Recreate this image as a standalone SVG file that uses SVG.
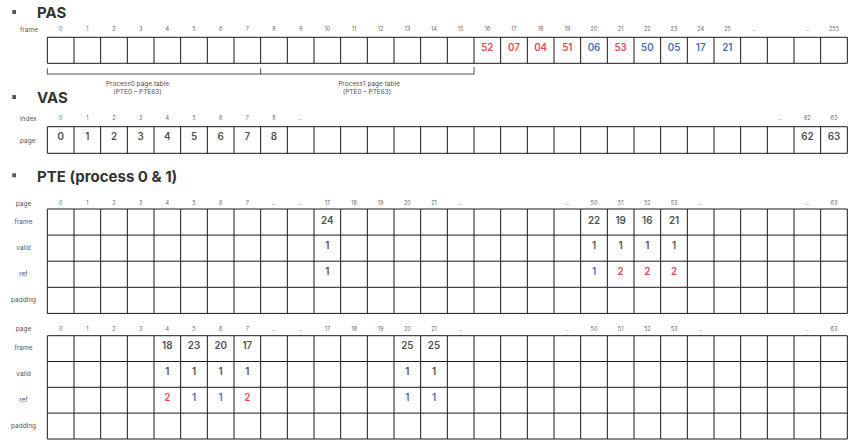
<svg xmlns="http://www.w3.org/2000/svg" width="856" height="444" viewBox="0 0 856 444">
<style>
text{font-family:Inter,"Noto Sans","Liberation Sans",sans-serif}
.t{font-size:15px;font-weight:700;fill:#333}
.b{fill:#555}
.h{font-size:5.5px;fill:#666;text-anchor:middle}
.l{font-size:6.5px;fill:#555}
.lc{font-size:6.5px;fill:#555;text-anchor:middle}
.v{font-size:9.8px;font-weight:600;fill:#505050;text-anchor:middle}
.r{fill:#e04b55}
.u{fill:#4a6fae}
.g{fill:none;stroke:#1a1a1a;stroke-width:1}
.k{fill:none;stroke:#555;stroke-width:1}
.n{font-size:6.5px;fill:#505050;text-anchor:middle}
</style>
<defs>
<path id="vl1" d="M47.33 0V26M74 0V26M100.67 0V26M127.33 0V26M154 0V26M180.67 0V26M207.33 0V26M234 0V26M260.67 0V26M287.33 0V26M314 0V26M340.67 0V26M367.33 0V26M394 0V26M420.67 0V26M447.33 0V26M474 0V26M500.67 0V26M527.33 0V26M554 0V26M580.67 0V26M607.33 0V26M634 0V26M660.67 0V26M687.33 0V26M714 0V26M740.67 0V26M767.33 0V26M794 0V26M820.67 0V26M847.33 0V26"/>
</defs>

<!-- PAS -->
<g id="pas">
<rect class="b" x="12.3" y="10" width="3.7" height="4"/>
<text class="t" x="37" y="17.5">PAS</text>
<text class="l" x="20" y="32">frame</text>
<g class="h">
<text x="60.67" y="31.3">0</text><text x="87.33" y="31.3">1</text><text x="114" y="31.3">2</text><text x="140.67" y="31.3">3</text><text x="167.33" y="31.3">4</text><text x="194" y="31.3">5</text><text x="220.67" y="31.3">6</text><text x="247.33" y="31.3">7</text><text x="274" y="31.3">8</text><text x="300.67" y="31.3">9</text><text x="327.33" y="31.3">10</text><text x="354" y="31.3">11</text><text x="380.67" y="31.3">12</text><text x="407.33" y="31.3">13</text><text x="434" y="31.3">14</text><text x="460.67" y="31.3">15</text><text x="487.33" y="31.3">16</text><text x="514" y="31.3">17</text><text x="540.67" y="31.3">18</text><text x="567.33" y="31.3">19</text><text x="594" y="31.3">20</text><text x="620.67" y="31.3">21</text><text x="647.33" y="31.3">22</text><text x="674" y="31.3">23</text><text x="700.67" y="31.3">24</text><text x="727.33" y="31.3">25</text><text x="754" y="31.3">..</text><text x="807.33" y="31.3">..</text><text x="834" y="31.3">255</text>
</g>
<use href="#vl1" class="g" transform="translate(0,37.3)"/>
<path class="g" d="M47.33 37.3H847.33M47.33 63.3H847.33"/>
<g class="v">
<text class="r" x="487.33" y="50.5">52</text><text class="r" x="514" y="50.5">07</text><text class="r" x="540.67" y="50.5">04</text><text class="r" x="567.33" y="50.5">51</text><text class="u" x="594" y="50.5">06</text><text class="r" x="620.67" y="50.5">53</text><text class="u" x="647.33" y="50.5">50</text><text class="u" x="674" y="50.5">05</text><text class="u" x="700.67" y="50.5">17</text><text class="u" x="727.33" y="50.5">21</text>
</g>
</g>

<!-- bracket -->
<g id="bracket">
<path class="k" d="M47.33 68.3V74.5M260.67 68.3V74.5M474 67V74.5M47.33 74H474"/>
<text class="n" x="137.5" y="85.5">Process0 page table</text>
<text class="n" x="137.5" y="93.5">(PTE0 – PTE63)</text>
<text class="n" x="369" y="85.5">Process1 page table</text>
<text class="n" x="367" y="94">(PTE0 – PTE63)</text>
</g>

<!-- VAS -->
<g id="vas">
<rect class="b" x="12.3" y="95" width="3.7" height="4"/>
<text class="t" x="37" y="102.7">VAS</text>
<text class="l" x="20" y="120.5">index</text>
<text class="l" x="20" y="142.5">page</text>
<g class="h">
<text x="60.67" y="120.3">0</text><text x="87.33" y="120.3">1</text><text x="114" y="120.3">2</text><text x="140.67" y="120.3">3</text><text x="167.33" y="120.3">4</text><text x="194" y="120.3">5</text><text x="220.67" y="120.3">6</text><text x="247.33" y="120.3">7</text><text x="274" y="120.3">8</text><text x="300.67" y="120.3">..</text><text x="780.67" y="120.3">..</text><text x="807.33" y="120.3">62</text><text x="834" y="120.3">63</text>
</g>
<use href="#vl1" class="g" transform="translate(0,126.7) scale(1,1.025)"/>
<path class="g" d="M47.33 126.7H847.33M47.33 153.3H847.33"/>
<g class="v">
<text x="60.67" y="139.7">0</text><text x="87.33" y="139.7">1</text><text x="114" y="139.7">2</text><text x="140.67" y="139.7">3</text><text x="167.33" y="139.7">4</text><text x="194" y="139.7">5</text><text x="220.67" y="139.7">6</text><text x="247.33" y="139.7">7</text><text x="274" y="139.7">8</text><text x="807.33" y="139.7">62</text><text x="834" y="139.7">63</text>
</g>
</g>

<!-- PTE title -->
<g id="pte-title">
<rect class="b" x="12.3" y="173.3" width="3.7" height="4"/>
<text class="t" x="37" y="181.5">PTE (process 0 &amp; 1)</text>
</g>

<!-- PTE table 1 -->
<g id="pte0">
<text class="lc" x="23.5" y="205.5">page</text>
<text class="lc" x="23.5" y="223.8">frame</text>
<text class="lc" x="23.5" y="249.5">valid</text>
<text class="lc" x="23.5" y="276.3">ref</text>
<text class="lc" x="23.5" y="301.5">padding</text>
<g class="h">
<text x="60.67" y="205.3">0</text><text x="87.33" y="205.3">1</text><text x="114" y="205.3">2</text><text x="140.67" y="205.3">3</text><text x="167.33" y="205.3">4</text><text x="194" y="205.3">5</text><text x="220.67" y="205.3">6</text><text x="247.33" y="205.3">7</text><text x="274" y="205.3">..</text><text x="300.67" y="205.3">..</text><text x="327.33" y="205.3">17</text><text x="354" y="205.3">18</text><text x="380.67" y="205.3">19</text><text x="407.33" y="205.3">20</text><text x="434" y="205.3">21</text><text x="460.67" y="205.3">..</text><text x="567.33" y="205.3">..</text><text x="594" y="205.3">50</text><text x="620.67" y="205.3">51</text><text x="647.33" y="205.3">52</text><text x="674" y="205.3">53</text><text x="700.67" y="205.3">..</text><text x="807.33" y="205.3">..</text><text x="834" y="205.3">63</text>
</g>
<use href="#vl1" class="g" transform="translate(0,209) scale(1,4.015)"/>
<path class="g" d="M47.33 209H847.33M47.33 235.1H847.33M47.33 261.2H847.33M47.33 287.3H847.33M47.33 313.4H847.33"/>
<g class="v">
<text x="327.33" y="223.5">24</text><text x="327.33" y="249">1</text><text x="327.33" y="275.2">1</text>
<text x="594" y="223.5">22</text><text x="620.67" y="223.5">19</text><text x="647.33" y="223.5">16</text><text x="674" y="223.5">21</text>
<text x="594" y="249">1</text><text x="620.67" y="249">1</text><text x="647.33" y="249">1</text><text x="674" y="249">1</text>
<text class="u" x="594" y="275.2">1</text><text class="r" x="620.67" y="275.2">2</text><text class="r" x="647.33" y="275.2">2</text><text class="r" x="674" y="275.2">2</text>
</g>
</g>

<!-- PTE table 2 -->
<g id="pte1">
<text class="lc" x="23.5" y="331">page</text>
<text class="lc" x="23.5" y="350">frame</text>
<text class="lc" x="23.5" y="376">valid</text>
<text class="lc" x="23.5" y="402.3">ref</text>
<text class="lc" x="23.5" y="427.5">padding</text>
<g class="h">
<text x="60.67" y="331">0</text><text x="87.33" y="331">1</text><text x="114" y="331">2</text><text x="140.67" y="331">3</text><text x="167.33" y="331">4</text><text x="194" y="331">5</text><text x="220.67" y="331">6</text><text x="247.33" y="331">7</text><text x="274" y="331">..</text><text x="300.67" y="331">..</text><text x="327.33" y="331">17</text><text x="354" y="331">18</text><text x="380.67" y="331">19</text><text x="407.33" y="331">20</text><text x="434" y="331">21</text><text x="460.67" y="331">..</text><text x="567.33" y="331">..</text><text x="594" y="331">50</text><text x="620.67" y="331">51</text><text x="647.33" y="331">52</text><text x="674" y="331">53</text><text x="700.67" y="331">..</text><text x="807.33" y="331">..</text><text x="834" y="331">63</text>
</g>
<use href="#vl1" class="g" transform="translate(0,335.7) scale(1,3.973)"/>
<path class="g" d="M47.33 335.7H847.33M47.33 361.5H847.33M47.33 387.3H847.33M47.33 413.1H847.33M47.33 439H847.33"/>
<g class="v">
<text x="167.33" y="349.3">18</text><text x="194" y="349.3">23</text><text x="220.67" y="349.3">20</text><text x="247.33" y="349.3">17</text>
<text x="167.33" y="374.7">1</text><text x="194" y="374.7">1</text><text x="220.67" y="374.7">1</text><text x="247.33" y="374.7">1</text>
<text class="r" x="167.33" y="400.5">2</text><text class="u" x="194" y="400.5">1</text><text class="u" x="220.67" y="400.5">1</text><text class="r" x="247.33" y="400.5">2</text>
<text x="407.33" y="349.3">25</text><text x="434" y="349.3">25</text>
<text x="407.33" y="374.7">1</text><text x="434" y="374.7">1</text>
<text class="u" x="407.33" y="400.5">1</text><text class="u" x="434" y="400.5">1</text>
</g>
</g>
</svg>
